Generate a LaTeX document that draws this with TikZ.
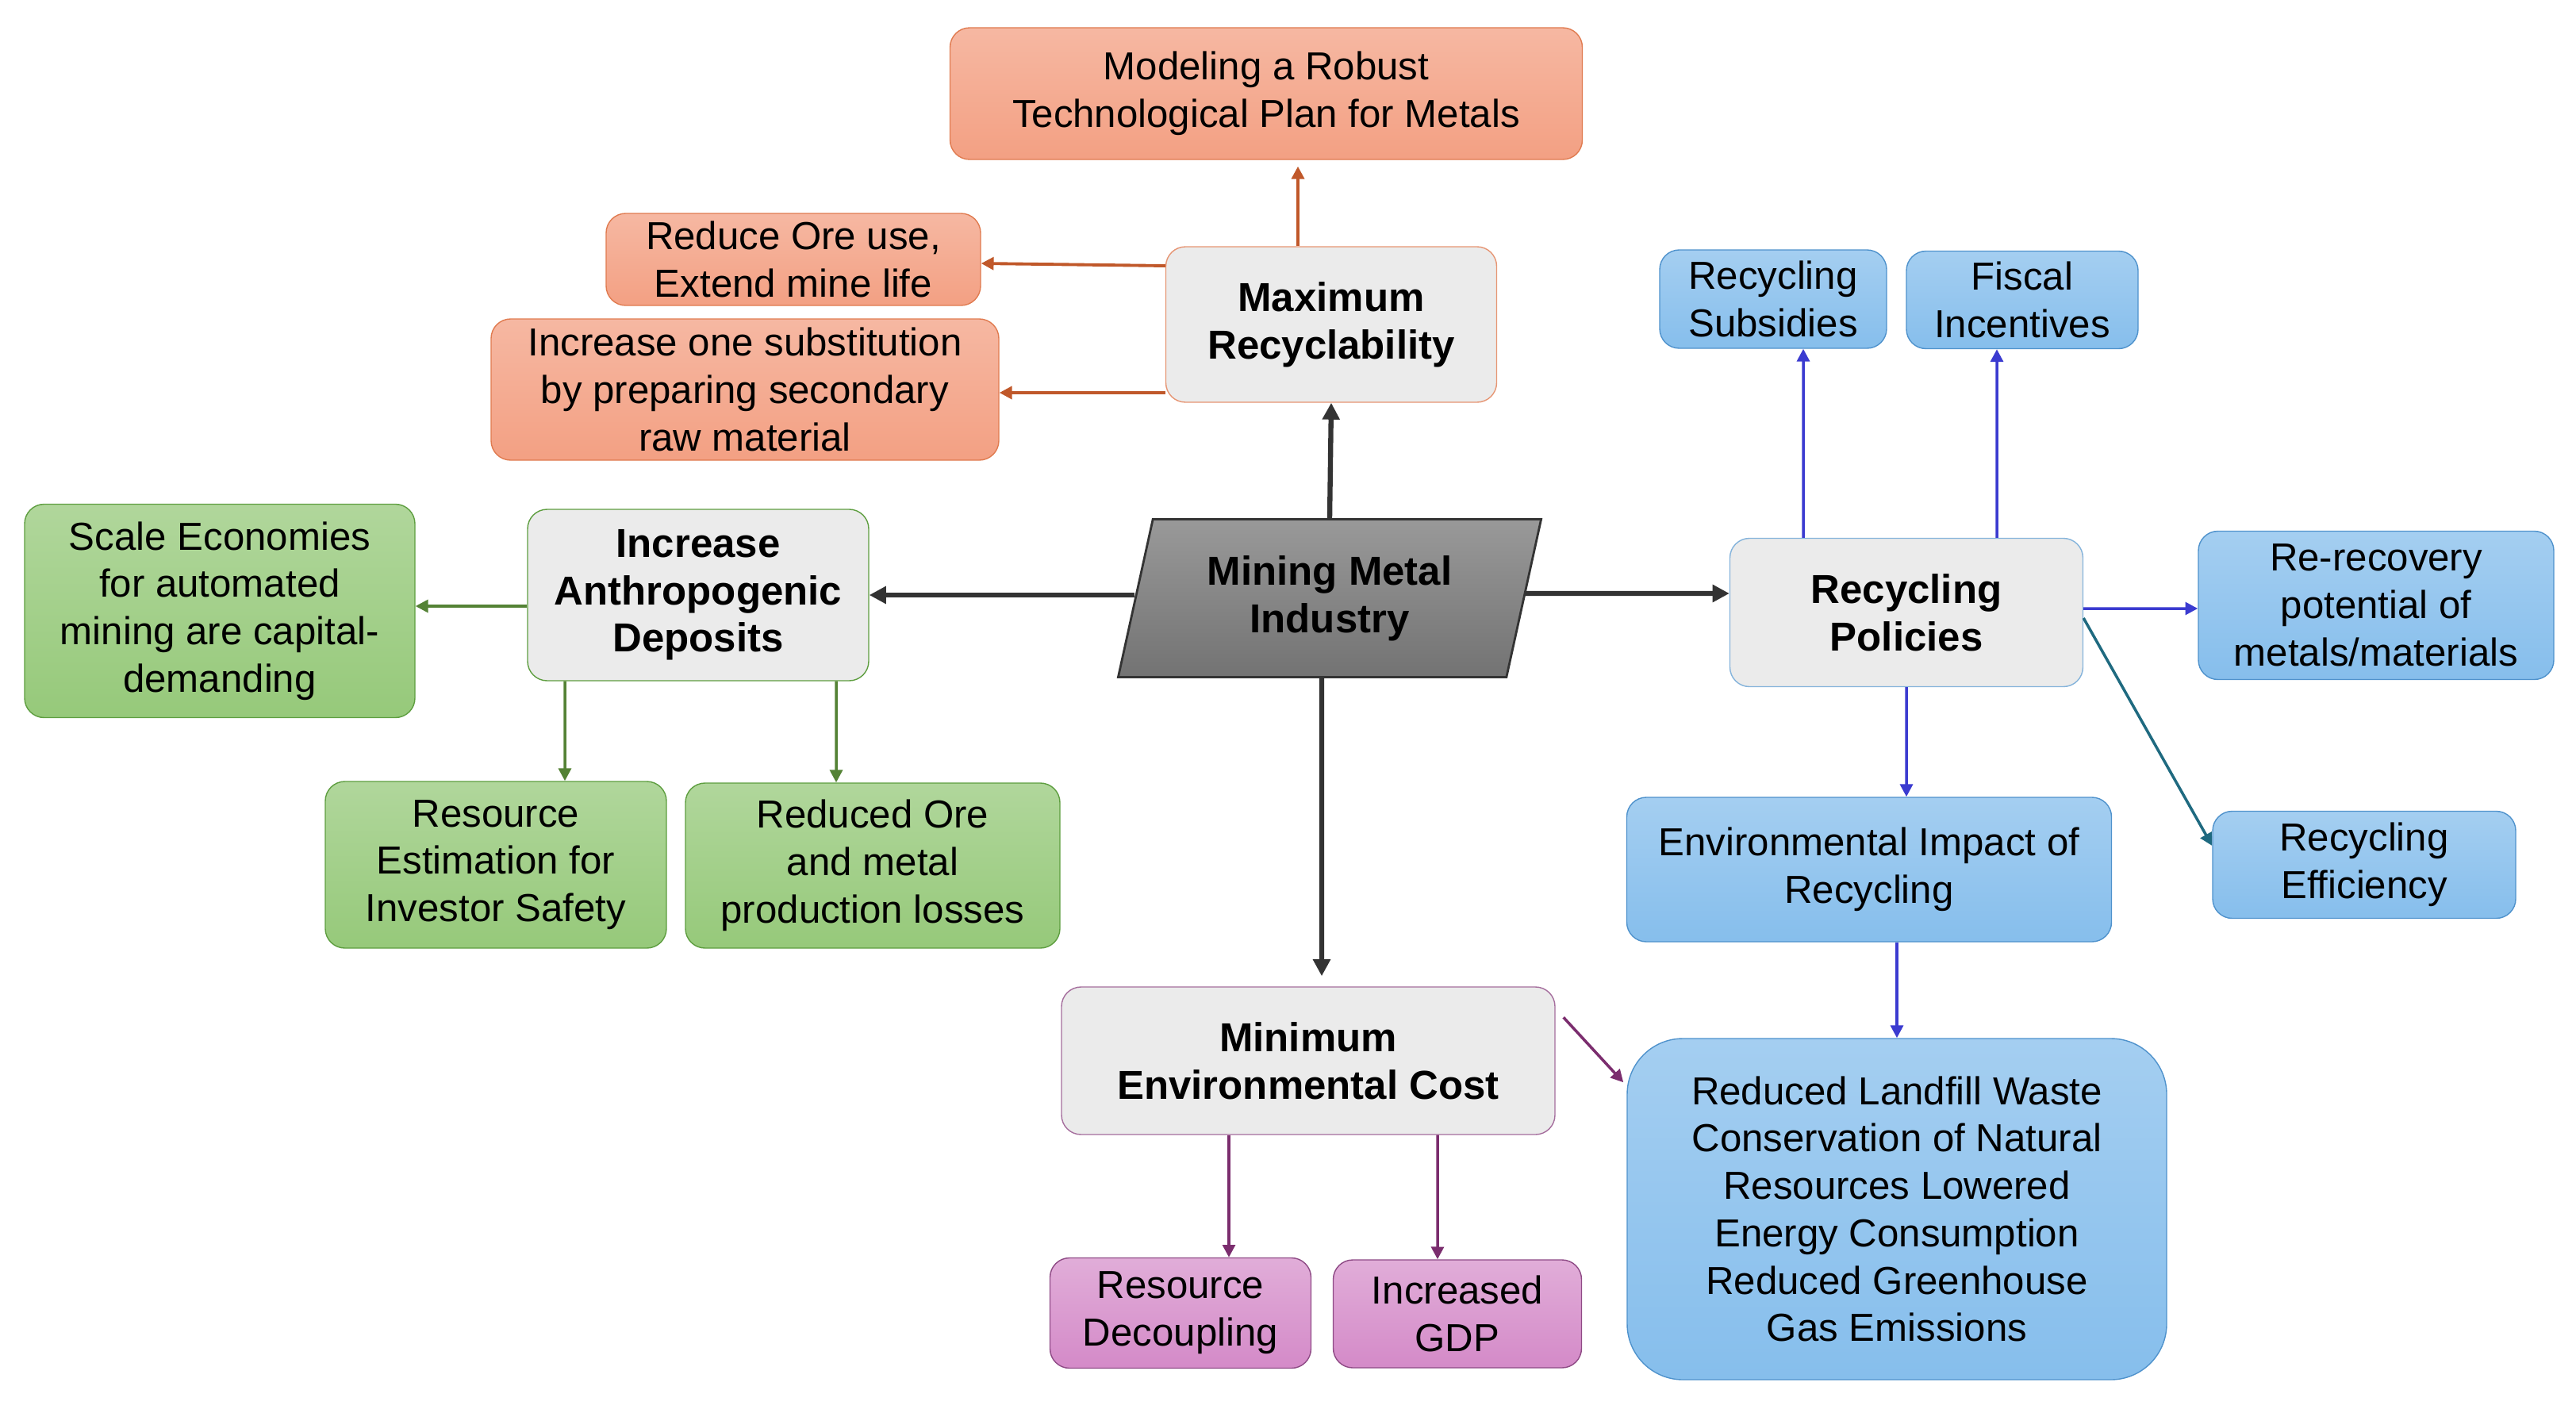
\documentclass[tikz,border=0pt]{standalone}
\usepackage{fontspec}
\setmainfont{Liberation Sans}
\usetikzlibrary{shapes.geometric,arrows.meta}

\definecolor{orfill}{HTML}{F3A083}
\definecolor{ordraw}{HTML}{E07B50}
\definecolor{orline}{HTML}{C0582A}
\definecolor{grfill}{HTML}{96C97A}
\definecolor{grdraw}{HTML}{5E9E40}
\definecolor{grline}{HTML}{548235}
\definecolor{blfill}{HTML}{86BEEC}
\definecolor{bldraw}{HTML}{4F92CC}
\definecolor{blline}{HTML}{3B3BD0}
\definecolor{tealline}{HTML}{1F6A80}
\definecolor{pufill}{HTML}{D48AC8}
\definecolor{pudraw}{HTML}{8E4A85}
\definecolor{puline}{HTML}{7B2D6E}
\definecolor{hubfill}{HTML}{EBEBEB}
\definecolor{darkline}{HTML}{333333}

\tikzset{
  base/.style={rounded corners=7pt,align=center,inner sep=2pt,
    font=\fontsize{14}{17}\selectfont},
  orbox/.style={base,draw=ordraw,top color=orfill!75!white,bottom color=orfill},
  grbox/.style={base,draw=grdraw,top color=grfill!75!white,bottom color=grfill},
  blbox/.style={base,draw=bldraw,top color=blfill!75!white,bottom color=blfill},
  pubox/.style={base,draw=pudraw,top color=pufill!70!white,bottom color=pufill},
  hub/.style={base,fill=hubfill,font=\fontsize{14.5}{17}\selectfont\bfseries},
  darkarr/.style={draw=darkline,line width=1.8pt,-{Triangle[length=6pt,width=6pt]}},
  orarr/.style={draw=orline,line width=1.1pt,-{Triangle[length=4.5pt,width=4.5pt]}},
  grarr/.style={draw=grline,line width=1pt,-{Triangle[length=4.5pt,width=4.5pt]}},
  blarr/.style={draw=blline,line width=1pt,-{Triangle[length=4.5pt,width=4.5pt]}},
  puarr/.style={draw=puline,line width=1pt,-{Triangle[length=4.5pt,width=4.5pt]}}
}

\begin{document}
\begin{tikzpicture}
\useasboundingbox (0,0) rectangle (32.47,-17.81);

% centre
\node[trapezium,trapezium left angle=76,trapezium right angle=104,trapezium stretches=true,
  minimum width=5.34cm,minimum height=1.99cm,draw=darkline,line width=0.8pt,
  top color=black!40,bottom color=black!55,align=center,
  font=\fontsize{14.5}{17}\selectfont\bfseries] (mmi) at (16.76,-7.54) {Mining Metal\\Industry};

% maximum recyclability
\node[hub,draw=ordraw!80,minimum width=4.17cm,minimum height=1.96cm] (maxrec) at (16.78,-4.09) {Maximum\\Recyclability};
\node[orbox,minimum width=7.97cm,minimum height=1.66cm] (model) at (15.96,-1.18) {Modeling a Robust\\Technological Plan for Metals};
\node[orbox,minimum width=4.72cm,minimum height=1.16cm] (reduceore) at (10.00,-3.27) {Reduce Ore use,\\Extend mine life};
\node[orbox,minimum width=6.40cm,minimum height=1.78cm] (substit) at (9.39,-4.91) {Increase one substitution\\by preparing secondary\\raw material};

% anthropogenic deposits
\node[hub,draw=grdraw,minimum width=4.30cm,minimum height=2.16cm] (anthro) at (8.80,-7.50) {Increase\\Anthropogenic\\Deposits};
\node[grbox,minimum width=4.92cm,minimum height=2.69cm] (scale) at (2.77,-7.70) {Scale Economies\\for automated\\mining are capital-\\demanding};
\node[grbox,minimum width=4.30cm,minimum height=2.10cm] (resest) at (6.25,-10.90) {Resource\\Estimation for\\Investor Safety};
\node[grbox,minimum width=4.72cm,minimum height=2.08cm] (redore) at (11.00,-10.91) {Reduced Ore\\and metal\\production losses};

% recycling policies
\node[hub,draw=bldraw!70,minimum width=4.45cm,minimum height=1.87cm] (recpol) at (24.03,-7.72) {Recycling\\Policies};
\node[blbox,minimum width=2.86cm,minimum height=1.24cm] (subsid) at (22.35,-3.77) {Recycling\\Subsidies};
\node[blbox,minimum width=2.92cm,minimum height=1.23cm] (fiscal) at (25.49,-3.78) {Fiscal\\Incentives};
\node[blbox,minimum width=4.48cm,minimum height=1.87cm] (rerecov) at (29.95,-7.63) {Re-recovery\\potential of\\metals/materials};
\node[blbox,minimum width=3.82cm,minimum height=1.35cm] (receff) at (29.80,-10.90) {Recycling\\Efficiency};
\node[blbox,minimum width=6.11cm,minimum height=1.82cm] (envimp) at (23.56,-10.96) {Environmental Impact of\\Recycling};
\node[blbox,rounded corners=20pt,minimum width=6.80cm,minimum height=4.30cm] (benefits) at (23.91,-15.24)
  {Reduced Landfill Waste\\Conservation of Natural\\Resources Lowered\\Energy Consumption\\Reduced Greenhouse\\Gas Emissions};

% minimum environmental cost
\node[hub,draw=pudraw!80,minimum width=6.22cm,minimum height=1.86cm] (mincost) at (16.49,-13.37) {Minimum\\Environmental Cost};
\node[pubox,minimum width=3.29cm,minimum height=1.39cm] (decoup) at (14.88,-16.55) {Resource\\Decoupling};
\node[pubox,minimum width=3.13cm,minimum height=1.36cm] (gdp) at (18.37,-16.56) {Increased\\GDP};

% arrows from the centre
\draw[darkarr] (mmi.north) -- (maxrec.south);
\draw[darkarr] (mmi.west |- anthro.east) -- (anthro.east);
\draw[darkarr] ([yshift=0.06cm]mmi.east) -- ([yshift=0.24cm]recpol.west);
\draw[darkarr] ([xshift=-0.1cm]mmi.south) -- ([xshift=0.17cm,yshift=0.13cm]mincost.north);

\draw[orarr] ([xshift=-0.42cm]maxrec.north) -- ([xshift=0.40cm,yshift=-0.08cm]model.south);
\draw[orarr] ([yshift=0.74cm]maxrec.west) -- ([yshift=-0.05cm]reduceore.east);
\draw[orarr] ([yshift=-0.86cm]maxrec.west) -- ([yshift=-0.04cm]substit.east);

\draw[grarr] ([yshift=-0.14cm]anthro.west) -- ([yshift=0.06cm]scale.east);
\draw[grarr] ([xshift=-1.68cm]anthro.south) -- ([xshift=0.87cm]resest.north);
\draw[grarr] ([xshift=1.74cm]anthro.south) -- ([xshift=-0.46cm]redore.north);

\draw[blarr] ([xshift=-1.30cm]recpol.north) -- ([xshift=0.38cm]subsid.south);
\draw[blarr] ([xshift=1.14cm]recpol.north) -- ([xshift=-0.32cm]fiscal.south);
\draw[blarr] ([yshift=0.05cm]recpol.east) -- ([yshift=-0.04cm]rerecov.west);
\draw[blarr,draw=tealline] ([yshift=-0.07cm]recpol.east) -- ([yshift=0.24cm]receff.west);
\draw[blarr] (recpol.south) -- ([xshift=0.47cm]envimp.north);
\draw[blarr] (envimp.south -| benefits.north) -- (benefits.north);

\draw[puarr] ([xshift=-1.00cm]mincost.south) -- ([xshift=0.61cm]decoup.north);
\draw[puarr] ([xshift=1.63cm]mincost.south) -- ([xshift=-0.25cm]gdp.north);
\draw[puarr] ([xshift=0.10cm,yshift=-0.39cm]mincost.north east) -- ([xshift=-0.04cm,yshift=-0.56cm]benefits.north west);
\end{tikzpicture}
\end{document}
